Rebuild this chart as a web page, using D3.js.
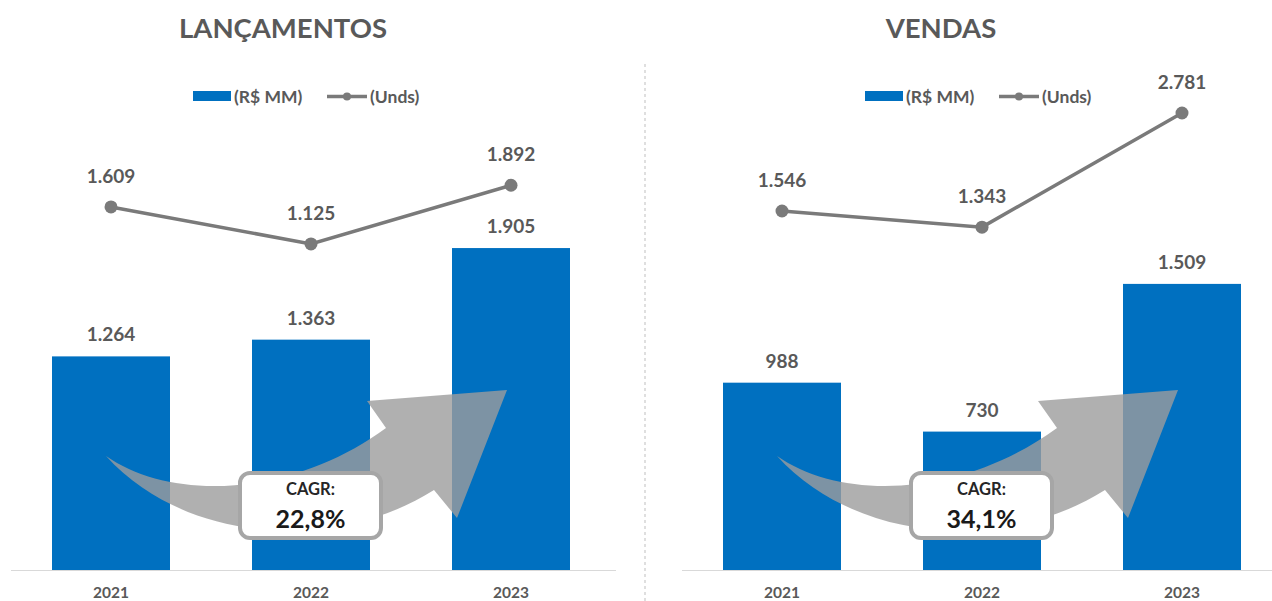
<!DOCTYPE html>
<html lang="pt">
  <head>
    <meta charset="UTF-8" />
    <title>Lançamentos e Vendas</title>
    <script src="https://d3js.org/d3.v7.min.js"></script>
    <style>
      body {
        margin: 0;
        background-color: #ffffff;
        font-family: Lato, "Open Sans", sans-serif;
      }
      svg text {
        font-weight: 700;
      }
    </style>
  </head>
  <body>
    <svg id="chart" width="1272" height="601"></svg>

    <script>
      // data
      const years = ["2021", "2022", "2023"];
      const lancamentosValor = [1264, 1363, 1905]; // R$ MM
      const lancamentosUnds = [1609, 1125, 1892];
      const vendasValor = [988, 730, 1509]; // R$ MM
      const vendasUnds = [1546, 1343, 2781];
      const titles = ["LANÇAMENTOS", "VENDAS"];
      const cagrLabels = ["22,8%", "34,1%"];
      const legendLabels = ["(R$ MM)", "(Unds)"];

      const blue = "#0070c0";
      const grey = "#7a7a7a";
      const textGrey = "#595959";

      const ptBR = d3.formatLocale({
        decimal: ",",
        thousands: ".",
        grouping: [3],
        currency: ["R$", ""],
      });
      const fmt = ptBR.format(",d");

      const svg = d3.select("#chart");

      // separator between the two charts
      svg
        .append("line")
        .attr("x1", 645)
        .attr("x2", 645)
        .attr("y1", 64)
        .attr("y2", 601)
        .attr("stroke", "#bfbfbf")
        .attr("stroke-width", 1)
        .attr("stroke-dasharray", "3,3");

      const panels = [
        {
          title: titles[0],
          valor: lancamentosValor,
          unds: lancamentosUnds,
          cagr: cagrLabels[0],
          range: [12, 610],
          axis: [11, 616],
          titleX: 283,
          legendX: 193,
          barMax: 2500,
          barTop: 147.5,
          lineBase: 330,
          lineTop: 24,
        },
        {
          title: titles[1],
          valor: vendasValor,
          unds: vendasUnds,
          cagr: cagrLabels[1],
          range: [683, 1281],
          axis: [682, 1272],
          titleX: 941,
          legendX: 865,
          barMax: 2500,
          barTop: 96,
          lineBase: 333.7,
          lineTop: 16.3,
        },
      ];

      const baseY = 570;

      panels.forEach((p) => {
        const g = svg.append("g");

        const x = d3
          .scaleBand()
          .domain(years)
          .range(p.range)
          .paddingInner(0.41)
          .paddingOuter(0.2);

        const yBar = d3
          .scaleLinear()
          .domain([0, p.barMax])
          .range([baseY, p.barTop]);

        const yLine = d3
          .scaleLinear()
          .domain([0, 4000])
          .range([p.lineBase, p.lineTop]);

        const barData = years.map((yr, i) => ({ year: yr, v: p.valor[i] }));
        const lineData = years.map((yr, i) => ({ year: yr, v: p.unds[i] }));

        // title
        g.append("text")
          .attr("x", p.titleX)
          .attr("y", 38)
          .attr("text-anchor", "middle")
          .attr("font-size", 27.5)
          .attr("fill", textGrey)
          .text(p.title);

        // legend
        const lg = g.append("g").attr("transform", `translate(${p.legendX},0)`);
        lg.append("rect")
          .attr("x", 0)
          .attr("y", 91)
          .attr("width", 38)
          .attr("height", 10)
          .attr("fill", blue);
        lg.append("text")
          .attr("x", 41)
          .attr("y", 102.5)
          .attr("font-size", 17.5)
          .attr("fill", textGrey)
          .text(legendLabels[0]);
        lg.append("line")
          .attr("x1", 134)
          .attr("x2", 174)
          .attr("y1", 96.5)
          .attr("y2", 96.5)
          .attr("stroke", grey)
          .attr("stroke-width", 3.5);
        lg.append("circle")
          .attr("cx", 154)
          .attr("cy", 96.5)
          .attr("r", 4)
          .attr("fill", grey);
        lg.append("text")
          .attr("x", 177)
          .attr("y", 102.5)
          .attr("font-size", 17.5)
          .attr("fill", textGrey)
          .text(legendLabels[1]);

        // axis line
        g.append("line")
          .attr("x1", p.axis[0])
          .attr("x2", p.axis[1])
          .attr("y1", baseY + 0.5)
          .attr("y2", baseY + 0.5)
          .attr("stroke", "#d9d9d9")
          .attr("stroke-width", 1);

        // bars
        g.selectAll(".bar")
          .data(barData)
          .join("rect")
          .attr("class", "bar")
          .attr("x", (d) => x(d.year))
          .attr("width", x.bandwidth())
          .attr("y", (d) => yBar(d.v))
          .attr("height", (d) => baseY - yBar(d.v))
          .attr("fill", blue);

        g.selectAll(".bar-label")
          .data(barData)
          .join("text")
          .attr("class", "bar-label")
          .attr("x", (d) => x(d.year) + x.bandwidth() / 2)
          .attr("y", (d) => yBar(d.v) - 15)
          .attr("text-anchor", "middle")
          .attr("font-size", 19)
          .attr("fill", textGrey)
          .text((d) => fmt(d.v));

        // year labels
        g.selectAll(".year")
          .data(years)
          .join("text")
          .attr("class", "year")
          .attr("x", (d) => x(d) + x.bandwidth() / 2)
          .attr("y", 598)
          .attr("text-anchor", "middle")
          .attr("font-size", 15.5)
          .attr("fill", textGrey)
          .text((d) => d);

        // curved growth arrow, local to the first bar
        const ax = x(years[0]);
        const arrow = d3.path();
        arrow.moveTo(ax + 54, 456);
        arrow.bezierCurveTo(ax + 120, 502, ax + 240, 497, ax + 334, 428);
        arrow.lineTo(ax + 315, 401);
        arrow.lineTo(ax + 455, 390);
        arrow.lineTo(ax + 405, 518);
        arrow.lineTo(ax + 382, 490);
        arrow.bezierCurveTo(ax + 285, 552, ax + 135, 545, ax + 54, 456);
        arrow.closePath();
        g.append("path")
          .attr("d", arrow.toString())
          .attr("fill", "#9c9c9c")
          .attr("fill-opacity", 0.8);

        // CAGR box
        g.append("rect")
          .attr("x", ax + 188)
          .attr("y", 473)
          .attr("width", 141)
          .attr("height", 65)
          .attr("rx", 10)
          .attr("fill", "#ffffff")
          .attr("stroke", "#a6a6a6")
          .attr("stroke-width", 4);
        g.append("text")
          .attr("x", ax + 258.5)
          .attr("y", 495)
          .attr("text-anchor", "middle")
          .attr("font-size", 16.5)
          .attr("fill", "#262626")
          .text("CAGR:");
        g.append("text")
          .attr("x", ax + 258.5)
          .attr("y", 528)
          .attr("text-anchor", "middle")
          .attr("font-size", 25)
          .attr("fill", "#1a1a1a")
          .text(p.cagr);

        // units line
        const line = d3
          .line()
          .x((d) => x(d.year) + x.bandwidth() / 2)
          .y((d) => yLine(d.v));

        g.append("path")
          .datum(lineData)
          .attr("d", line)
          .attr("fill", "none")
          .attr("stroke", grey)
          .attr("stroke-width", 3.5);

        g.selectAll(".dot")
          .data(lineData)
          .join("circle")
          .attr("class", "dot")
          .attr("cx", (d) => x(d.year) + x.bandwidth() / 2)
          .attr("cy", (d) => yLine(d.v))
          .attr("r", 6.5)
          .attr("fill", grey);

        g.selectAll(".dot-label")
          .data(lineData)
          .join("text")
          .attr("class", "dot-label")
          .attr("x", (d) => x(d.year) + x.bandwidth() / 2)
          .attr("y", (d) => yLine(d.v) - 24)
          .attr("text-anchor", "middle")
          .attr("font-size", 19)
          .attr("fill", textGrey)
          .text((d) => fmt(d.v));
      });
    </script>
  </body>
</html>
